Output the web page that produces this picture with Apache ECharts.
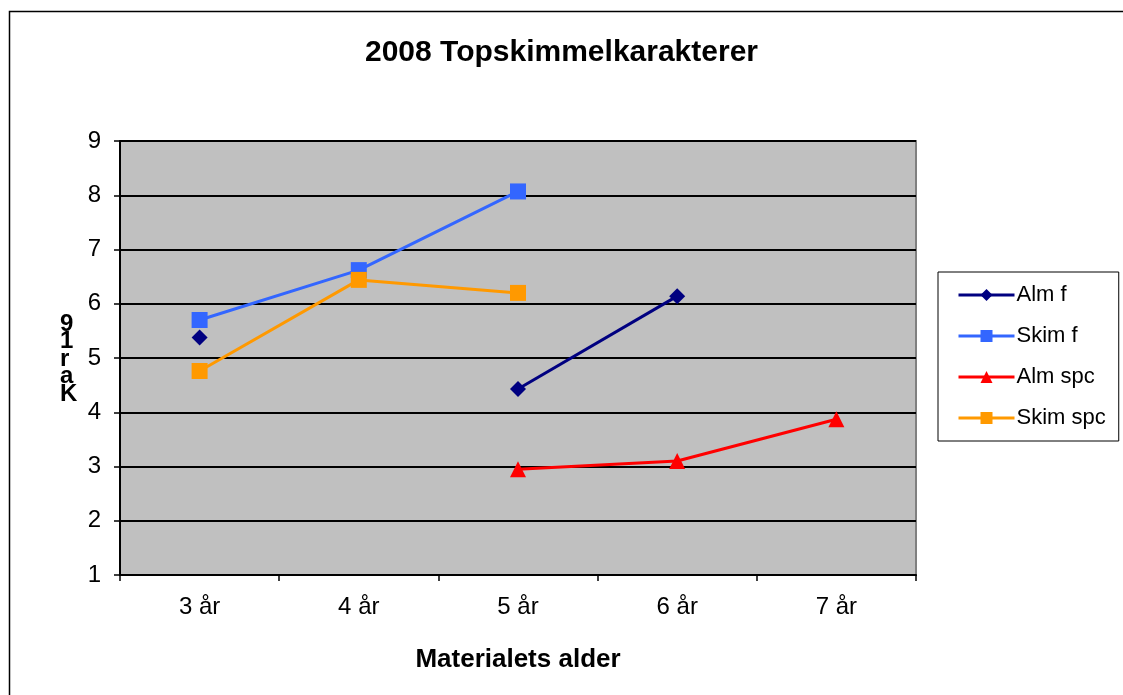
<!DOCTYPE html>
<html>
<head>
<meta charset="utf-8">
<title>2008 Topskimmelkarakterer</title>
<script src="https://cdn.jsdelivr.net/npm/echarts@6/dist/echarts.min.js"></script>
<style>
  html, body { margin: 0; padding: 0; background: #fff; }
  #chart { width: 1123px; height: 695px; }
</style>
</head>
<body>
<div id="chart"></div>
<script>
// data
var categories = ['3 år', '4 år', '5 år', '6 år', '7 år']
var almF = [5.38, null, 4.43, 6.14, null]
var skimF = [5.70, 6.62, 8.07, null, null]
var almSpc = [null, null, 2.95, 3.10, 3.87]
var skimSpc = [4.76, 6.44, 6.20, null, null]

var font = '"Liberation Sans", Arial, sans-serif'

function makeSeries(name, data, color, symbol) {
  return {
    name: name,
    type: 'line',
    data: data,
    symbol: symbol,
    symbolSize: 16,
    showAllSymbol: true,
    connectNulls: false,
    itemStyle: { color: color },
    lineStyle: { color: color, width: 3 },
    animation: false
  }
}

var chart = echarts.init(document.getElementById('chart'))
chart.setOption({
  backgroundColor: '#fff',
  textStyle: { fontFamily: font },
  title: {
    text: '2008 Topskimmelkarakterer',
    left: 'center',
    top: 33,
    textStyle: { fontFamily: font, fontSize: 30, fontWeight: 'bold', color: '#000' }
  },
  grid: {
    left: 120,
    top: 141,
    right: 207,
    bottom: 120,
    show: true,
    backgroundColor: '#c0c0c0',
    borderColor: '#808080',
    borderWidth: 2
  },
  legend: {
    orient: 'vertical',
    left: 938,
    top: 272,
    padding: [12, 13, 12, 19],
    itemGap: 19,
    itemWidth: 56,
    itemHeight: 15,
    borderColor: '#000',
    borderWidth: 1,
    lineStyle: { width: 3 },
    textStyle: { fontFamily: font, fontSize: 22, color: '#000', padding: [0, 0, 0, -3] },
    data: ['Alm f', 'Skim f', 'Alm spc', 'Skim spc']
  },
  xAxis: {
    type: 'category',
    data: categories,
    boundaryGap: true,
    name: 'Materialets alder',
    nameLocation: 'middle',
    nameGap: 72,
    nameTextStyle: { fontFamily: font, fontSize: 26, fontWeight: 'bold', color: '#000' },
    axisLine: { lineStyle: { color: '#000', width: 2 } },
    axisTick: { show: true, length: 6, lineStyle: { color: '#000', width: 1.5 } },
    axisLabel: { fontFamily: font, fontSize: 24, color: '#000', margin: 20 },
    splitLine: { show: false }
  },
  yAxis: {
    type: 'value',
    min: 1,
    max: 9,
    interval: 1,
    axisLine: { show: true, lineStyle: { color: '#000', width: 2 } },
    axisTick: { show: true, length: 6, lineStyle: { color: '#000', width: 1.5 } },
    axisLabel: { fontFamily: font, fontSize: 24, color: '#000', margin: 19 },
    splitLine: { show: true, lineStyle: { color: '#000', width: 2 } }
  },
  graphic: [
    {
      type: 'rect',
      silent: true,
      shape: { x: 9.5, y: 11.5, width: 1300, height: 1000 },
      style: { fill: 'none', stroke: '#000', lineWidth: 1.5 }
    },
    {
      type: 'text',
      left: 60,
      top: 312,
      style: {
        text: '9\n1\nr\na\nK',
        fontFamily: font,
        fontSize: 24,
        fontWeight: 'bold',
        lineHeight: 17.5,
        align: 'center',
        fill: '#000'
      }
    }
  ],
  series: [
    makeSeries('Alm f', almF, '#000080', 'diamond'),
    makeSeries('Skim f', skimF, '#3366ff', 'rect'),
    makeSeries('Alm spc', almSpc, '#ff0000', 'triangle'),
    makeSeries('Skim spc', skimSpc, '#ff9900', 'rect')
  ]
})
</script>
</body>
</html>
